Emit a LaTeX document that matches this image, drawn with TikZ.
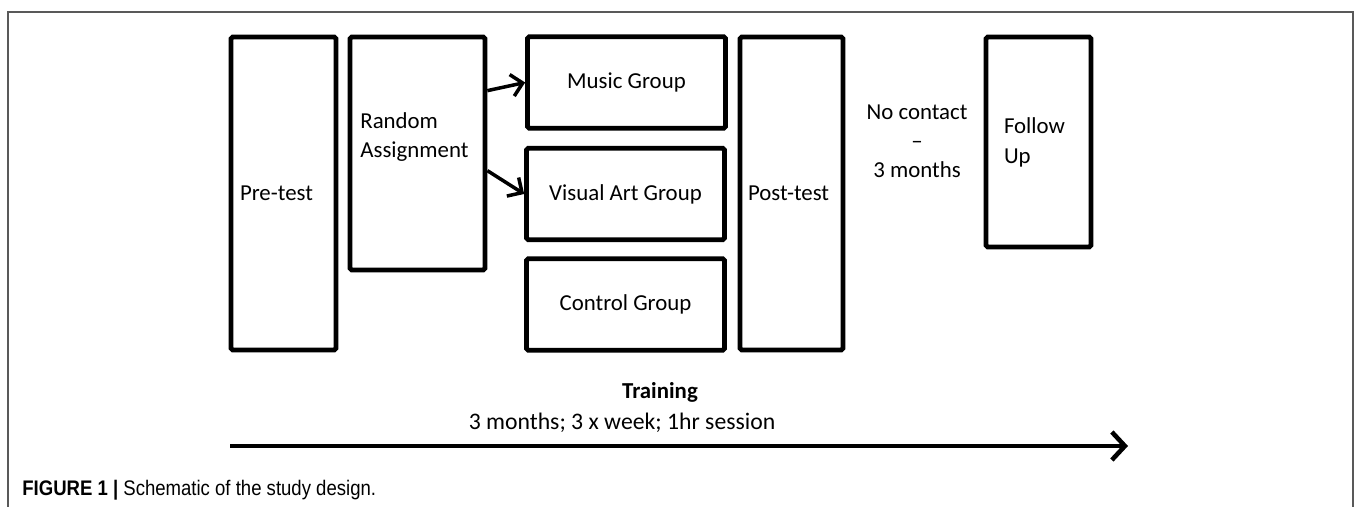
\documentclass[tikz,border=0pt]{standalone}
\usepackage{fontspec}
\setmainfont{Carlito}
\newfontfamily\capfont[FakeStretch=0.88]{Liberation Sans}
\usetikzlibrary{arrows.meta,calc}

\begin{document}
\begin{tikzpicture}[x=0.02cm, y=-0.02cm,
  font=\fontsize{13}{17}\selectfont,
  box/.style={draw, line width=2.7pt, rounded corners=1pt},
  stage/.style={box, align=left, minimum height=6.26cm},
  grp/.style={box, align=center, minimum width=3.96cm, minimum height=1.83cm, inner sep=0pt},
  txt/.style={inner sep=0pt, align=left},
  link/.style={-{Straight Barb[length=0.22cm, width=0.44cm]}, line width=2pt},
  timeline/.style={-{Straight Barb[length=0.26cm, width=0.56cm]}, line width=2.6pt},
]
\useasboundingbox (0,0) rectangle (1357,507);
\draw[gray!70!black, line width=0.6pt] (8,507) |- (1353,12) -- (1353,507);
\node[stage, text width=1.74cm, inner xsep=0.18cm] (pre) at (283.5,193.5) {Pre-test};
\node[box, minimum width=2.7cm, minimum height=4.66cm] (assign) at (417.5,153.5) {};
\node[txt, anchor=west] (assigntxt) at (360,137) {Random\\Assignment};
\node[grp] (music) at (626.5,82.5) {Music Group};
\node[grp] (visual) at (625.5,194) {Visual Art Group};
\node[grp] (control) at (625.5,304.5) {Control Group};
\node[stage, text width=1.74cm, inner xsep=0.16cm] (post) at (791.5,193.5) {Post-test};
\node[align=center, font=\fontsize{13}{16.5}\selectfont] (nocontact) at (917,141) {No contact\\--\\3 months};
\node[box, text width=1.38cm, inner xsep=0.36cm, minimum height=4.2cm, align=left] (follow) at (1038.5,142) {Follow\\Up};
\draw[link] ($(assign.north east)+(0,56)$) -- (music.west);
\draw[link] ($(assign.north east)+(0,136)$) -- (visual.west);
\node[font=\fontsize{13}{17}\bfseries] (training) at (660,392) {Training};
\node[font=\fontsize{13.5}{17}\selectfont] (schedule) at (622,423) {3 months; 3 x week; 1hr session};
\coordinate (tstart) at (230,446);
\coordinate (tend) at (1128,446);
\draw[timeline] (tstart) -- (tend);
\node[anchor=west, inner sep=0pt, font=\capfont\fontsize{12}{14}\selectfont] (caption) at (22,490)
  {\textbf{FIGURE 1 |} Schematic of the study design.};
\end{tikzpicture}
\end{document}
